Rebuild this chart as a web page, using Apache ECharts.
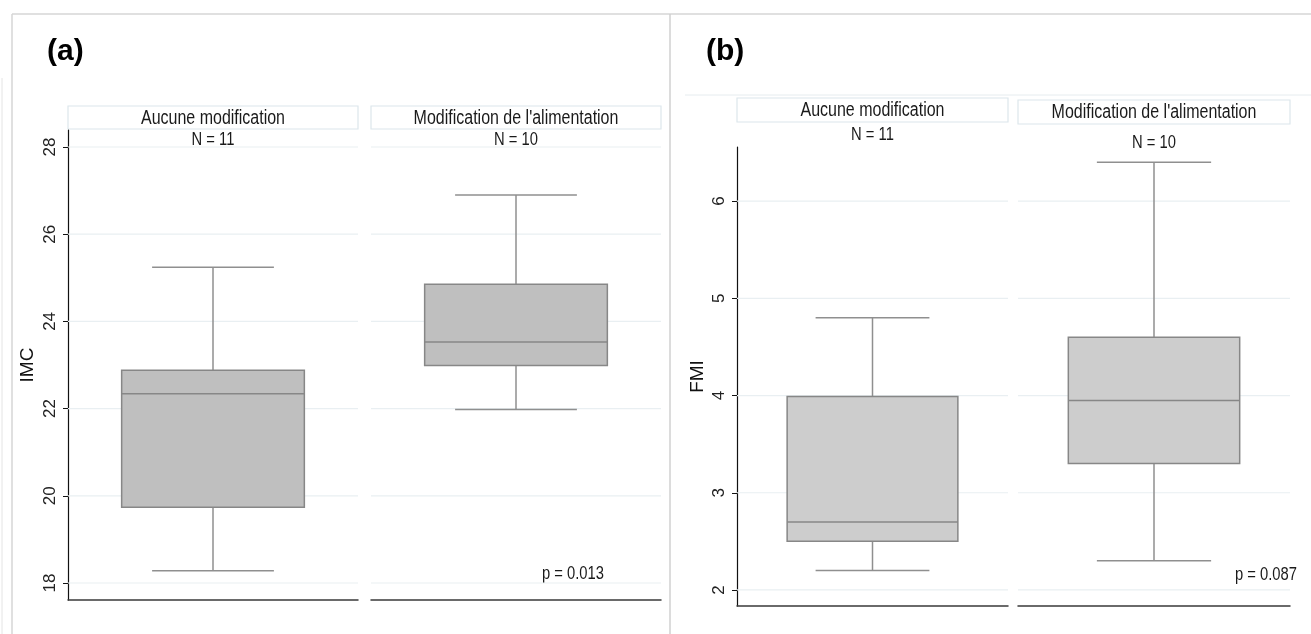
<!DOCTYPE html>
<html>
<head>
<meta charset="utf-8">
<script src="https://cdn.jsdelivr.net/npm/echarts@6/dist/echarts.min.js"></script>
<style>
  html, body { margin: 0; padding: 0; background: #fff; }
  #chart { width: 1311px; height: 634px; }
</style>
</head>
<body>
<div id="chart"></div>
<script>
const facets = ['Aucune modification', "Modification de l'alimentation"]
const nCounts = [11, 10]
// [min, Q1, median, Q3, max]
const imcBoxes = [
  [18.28, 19.74, 22.34, 22.88, 25.24],
  [21.98, 22.99, 23.53, 24.85, 26.9]
]
const fmiBoxes = [
  [2.2, 2.5, 2.7, 3.99, 4.8],
  [2.3, 3.3, 3.95, 4.6, 6.4]
]
const imcTicks = [18, 20, 22, 24, 26, 28]
const fmiTicks = [2, 3, 4, 5, 6]
const pValues = ['p = 0.013', 'p = 0.087']

const REGULAR = "'Liberation Sans', Arial, sans-serif"
// no narrow face installed: squeeze the regular one instead
const NARROW_SCALE = 0.82

// facet rectangles: [left, top, width, height]
const panels = [
  { name: 'IMC', min: 17.61, max: 28.39, ticks: imcTicks, boxes: imcBoxes, fill: '#bfbfbf',
    grids: [[68, 130, 290, 470], [371, 130, 290, 470]], nameGap: 31 },
  { name: 'FMI', min: 1.835, max: 6.557, ticks: fmiTicks, boxes: fmiBoxes, fill: '#cdcdcd',
    grids: [[737, 147, 271, 459], [1018, 147, 272, 459]], nameGap: 30 }
]

const grid = []
const xAxis = []
const yAxis = []
const series = []

panels.forEach(p => {
  p.grids.forEach((g, k) => {
    const idx = grid.length
    grid.push({ left: g[0], top: g[1], width: g[2], height: g[3] })
    xAxis.push({
      type: 'category', gridIndex: idx, data: [facets[k]],
      axisLine: { show: true, lineStyle: { color: '#3a3a3a', width: 1.5 } },
      axisTick: { show: false }, axisLabel: { show: false }, splitLine: { show: false }
    })
    yAxis.push({
      type: 'value', gridIndex: idx, min: p.min, max: p.max,
      name: k === 0 ? p.name : '', nameLocation: 'middle', nameGap: p.nameGap,
      nameTextStyle: { fontFamily: REGULAR, fontSize: 19, color: '#111' },
      axisLine: { show: k === 0, lineStyle: { color: '#111', width: 1.2 } },
      axisTick: { show: k === 0, length: 5, customValues: p.ticks, lineStyle: { color: '#111' } },
      axisLabel: { show: k === 0, customValues: p.ticks, rotate: 90, margin: 9,
        fontFamily: REGULAR, fontSize: 17, color: '#222' },
      splitLine: { show: false }
    })
    // horizontal reference lines at tick values
    series.push({
      type: 'custom', xAxisIndex: idx, yAxisIndex: idx, z: 1, silent: true,
      data: p.ticks.map(v => [0, v]),
      encode: { x: 0, y: 1 },
      renderItem (params, api) {
        const cs = params.coordSys
        const y = api.coord([0, api.value(1)])[1]
        return {
          type: 'line',
          shape: { x1: cs.x, y1: y, x2: cs.x + cs.width, y2: y },
          style: { stroke: '#e9eff2', lineWidth: 1.2 }
        }
      }
    })
    // box and whiskers
    series.push({
      type: 'custom', xAxisIndex: idx, yAxisIndex: idx, z: 3, silent: true,
      data: [[0].concat(p.boxes[k])],
      encode: { x: 0, y: [1, 2, 3, 4, 5] },
      renderItem (params, api) {
        const cx = api.coord([0, api.value(1)])[0]
        const band = api.size([1, 0])[0]
        const bw = band * 0.63
        const cw = band * 0.42
        const y = i => api.coord([0, api.value(i)])[1]
        const lo = y(1), q1 = y(2), md = y(3), q3 = y(4), hi = y(5)
        const wStyle = { stroke: '#8f8f8f', lineWidth: 1.5 }
        const bStyle = { stroke: '#878787', lineWidth: 1.5 }
        return {
          type: 'group',
          children: [
            { type: 'line', shape: { x1: cx, y1: hi, x2: cx, y2: q3 }, style: wStyle },
            { type: 'line', shape: { x1: cx, y1: q1, x2: cx, y2: lo }, style: wStyle },
            { type: 'line', shape: { x1: cx - cw / 2, y1: hi, x2: cx + cw / 2, y2: hi }, style: wStyle },
            { type: 'line', shape: { x1: cx - cw / 2, y1: lo, x2: cx + cw / 2, y2: lo }, style: wStyle },
            { type: 'rect', shape: { x: cx - bw / 2, y: q3, width: bw, height: q1 - q3 },
              style: Object.assign({ fill: p.fill }, bStyle) },
            { type: 'line', shape: { x1: cx - bw / 2, y1: md, x2: cx + bw / 2, y2: md }, style: bStyle }
          ]
        }
      }
    })
  })
})

// decorations: frames, panel letters, strip headers, N and p labels
const graphic = [
  { type: 'line', shape: { x1: 12, y1: 14, x2: 1311, y2: 14 }, style: { stroke: '#d6d6d6', lineWidth: 1.5 } },
  { type: 'line', shape: { x1: 12, y1: 14, x2: 12, y2: 634 }, style: { stroke: '#d6d6d6', lineWidth: 1.5 } },
  { type: 'line', shape: { x1: 670, y1: 14, x2: 670, y2: 634 }, style: { stroke: '#d0d0d0', lineWidth: 1.5 } },
  { type: 'line', shape: { x1: 2, y1: 78, x2: 2, y2: 634 }, style: { stroke: '#e4e4e4', lineWidth: 1 } },
  { type: 'line', shape: { x1: 685, y1: 95, x2: 1311, y2: 95 }, style: { stroke: '#e6ecef', lineWidth: 1 } },
  { type: 'text', x: 47, y: 52, style: { text: '(a)', font: "bold 30px 'Liberation Sans', Arial, sans-serif", fill: '#000', verticalAlign: 'middle' } },
  { type: 'text', x: 706, y: 52, style: { text: '(b)', font: "bold 30px 'Liberation Sans', Arial, sans-serif", fill: '#000', verticalAlign: 'middle' } }
]

function narrowText (text, x, y, size, align) {
  return {
    type: 'text', x, y, scaleX: NARROW_SCALE,
    style: { text, font: size + 'px ' + REGULAR, fill: '#1a1a1a', align, verticalAlign: 'middle' }
  }
}

const strips = [
  { g: panels[0].grids[0], top: 106, h: 23, nY: 140 },
  { g: panels[0].grids[1], top: 106, h: 23, nY: 140 },
  { g: panels[1].grids[0], top: 98, h: 24, nY: 135 },
  { g: panels[1].grids[1], top: 100, h: 24, nY: 143 }
]
strips.forEach((s, i) => {
  const k = i % 2
  const cx = s.g[0] + s.g[2] / 2
  graphic.push({
    type: 'rect', shape: { x: s.g[0], y: s.top, width: s.g[2], height: s.h },
    style: { fill: '#fff', stroke: '#dce6ec', lineWidth: 1.2 }
  })
  graphic.push(narrowText(facets[k], cx, s.top + s.h / 2 + 1, 19.5, 'center'))
  graphic.push(narrowText('N = ' + nCounts[k], cx, s.nY, 18, 'center'))
})
graphic.push(narrowText(pValues[0], 604, 574, 18, 'right'))
graphic.push(narrowText(pValues[1], 1297, 575, 18, 'right'))

const chart = echarts.init(document.getElementById('chart'))
chart.setOption({
  animation: false,
  backgroundColor: '#fff',
  grid, xAxis, yAxis, series, graphic
})
window.addEventListener('resize', () => chart.resize())
</script>
</body>
</html>
